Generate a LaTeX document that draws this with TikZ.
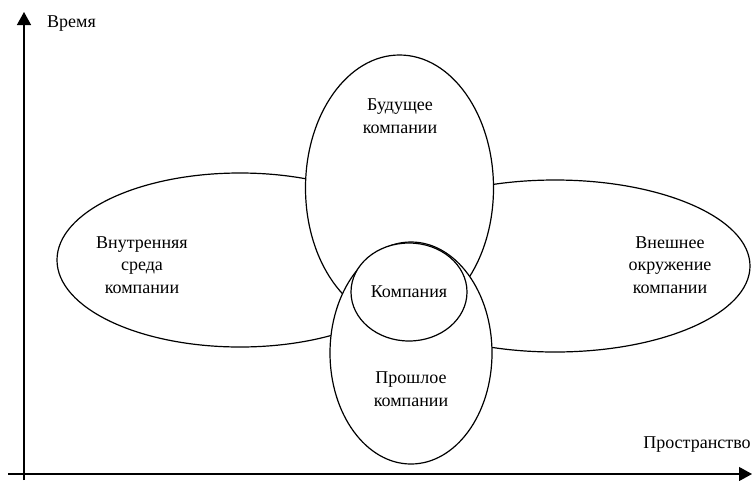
\documentclass[tikz,border=0pt]{standalone}
\usepackage{fontspec}
\setmainfont{Liberation Serif}
\usetikzlibrary{shapes.geometric,arrows.meta}
\begin{document}
\begin{tikzpicture}[x=1pt,y=-1pt,
    oval/.style={ellipse, draw, fill=white, line width=1.2pt, inner sep=0pt},
    caption/.style={align=center, inner sep=0pt, font=\fontsize{18}{22.5}\selectfont},
    axis/.style={line width=1.3pt, -{Triangle[length=13pt,width=14pt]}}]
    \useasboundingbox (0,0) rectangle (752,480);
    % axes
    \coordinate (ybot) at (24,480);
    \coordinate (ytop) at (24,12);
    \coordinate (xleft) at (8,474);
    \coordinate (xright) at (752,474);
    \draw[axis] (ybot) -- (ytop);
    \draw[axis] (xleft) -- (xright);
    \node[caption, anchor=west] (time) at (47,24) {Время};
    \node[caption] (space) at (697,445) {Пространство};
    % ellipses, back to front
    \node[oval, minimum width=366pt, minimum height=174pt] (inner) at (240,260) {};
    \node[oval, minimum width=390pt, minimum height=172pt] (outer) at (555,266) {};
    \node[oval, minimum width=188pt, minimum height=266pt] (future) at (399.5,188) {};
    \node[oval, minimum width=162pt, minimum height=222pt] (past) at (411,353) {};
    \node[oval, minimum width=116pt, minimum height=98pt, font=\fontsize{18}{22.5}\selectfont] (firm) at (409,292) {Компания};
    % texts
    \node[caption] (innertext) at (142,265) {Внутренняя\\среда\\компании};
    \node[caption] (outertext) at (670,265) {Внешнее\\окружение\\компании};
    \node[caption] (futuretext) at (400,116) {Будущее\\компании};
    \node[caption] (pasttext) at (411,389) {Прошлое\\компании};
\end{tikzpicture}
\end{document}
